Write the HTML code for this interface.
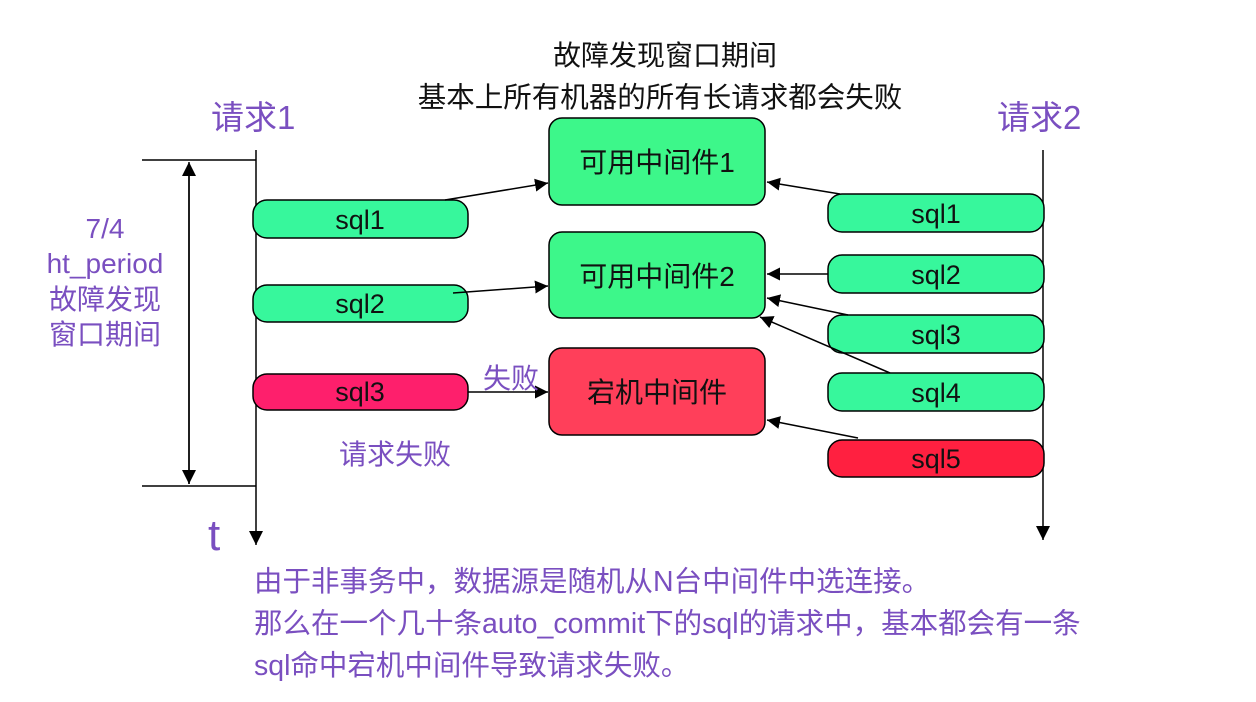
<!DOCTYPE html>
<html><head><meta charset="utf-8"><style>
html,body{margin:0;padding:0;background:#fff;}
svg{display:block;}
text{font-family:"Liberation Sans","Noto Sans CJK SC",sans-serif;}
</style></head><body>
<svg width="1256" height="702" viewBox="0 0 1256 702" xmlns="http://www.w3.org/2000/svg">
<defs>
<marker id="a" viewBox="0 0 10 10" refX="10" refY="5" markerWidth="13" markerHeight="13" markerUnits="userSpaceOnUse" orient="auto"><path d="M0,0 L10,5 L0,10 z" fill="#000"/></marker>
<marker id="b" viewBox="0 0 10 10" refX="10" refY="5" markerWidth="14" markerHeight="14" markerUnits="userSpaceOnUse" orient="auto"><path d="M0,0 L10,5 L0,10 z" fill="#000"/></marker>
</defs>
<text x="665" y="65" font-size="28" text-anchor="middle" fill="#111">故障发现窗口期间</text>
<text x="660" y="107" font-size="28.5" text-anchor="middle" fill="#111">基本上所有机器的所有长请求都会失败</text>
<text x="211" y="129" font-size="33" fill="#7a4fc0">请求1</text>
<text x="997" y="129" font-size="33" fill="#7a4fc0">请求2</text>
<line x1="256" y1="150" x2="256" y2="545" stroke="#000" stroke-width="1.5" marker-end="url(#b)"/>
<line x1="1043" y1="150" x2="1043" y2="540" stroke="#000" stroke-width="1.5" marker-end="url(#b)"/>
<line x1="142" y1="160" x2="256" y2="160" stroke="#000" stroke-width="1.5"/>
<line x1="142" y1="486" x2="256" y2="486" stroke="#000" stroke-width="1.5"/>
<line x1="189" y1="484" x2="189" y2="162" stroke="#000" stroke-width="1.5" marker-end="url(#b)"/>
<line x1="189" y1="170" x2="189" y2="484" stroke="#000" stroke-width="1.5" marker-end="url(#b)"/>
<g font-size="28" fill="#7a4fc0" text-anchor="middle">
<text x="105" y="238">7/4</text>
<text x="105" y="273">ht_period</text>
<text x="105" y="309">故障发现</text>
<text x="105" y="344">窗口期间</text>
</g>
<text x="208" y="550" font-size="44" fill="#7a4fc0">t</text>
<g stroke="#000" stroke-width="1.5">
<rect x="549" y="118" width="216" height="87" rx="13" fill="#3df78a"/>
<rect x="549" y="232" width="216" height="86" rx="13" fill="#3df78a"/>
<rect x="549" y="348" width="216" height="87" rx="13" fill="#ff3f5a"/>
</g>
<g font-size="28" fill="#111" text-anchor="middle">
<text x="657" y="172">可用中间件1</text>
<text x="657" y="286">可用中间件2</text>
<text x="657" y="402">宕机中间件</text>
</g>
<g stroke="#000" stroke-width="1.5">
<rect x="253" y="200" width="215" height="38" rx="14" fill="#37f79c"/>
<rect x="253" y="285" width="215" height="37" rx="14" fill="#37f79c"/>
<rect x="253" y="374" width="215" height="36" rx="14" fill="#fe1f6c"/>
<rect x="828" y="194" width="216" height="38" rx="14" fill="#37f79c"/>
<rect x="828" y="255" width="216" height="38" rx="14" fill="#37f79c"/>
<rect x="828" y="315" width="216" height="38" rx="14" fill="#37f79c"/>
<rect x="828" y="373" width="216" height="38" rx="14" fill="#37f79c"/>
<rect x="828" y="440" width="216" height="37" rx="14" fill="#ff2040"/>
</g>
<g font-size="27" fill="#111" text-anchor="middle">
<text x="360" y="229">sql1</text>
<text x="360" y="313">sql2</text>
<text x="360" y="401">sql3</text>
<text x="936" y="223">sql1</text>
<text x="936" y="284">sql2</text>
<text x="936" y="344">sql3</text>
<text x="936" y="402">sql4</text>
<text x="936" y="468">sql5</text>
</g>
<g stroke="#000" stroke-width="1.5" fill="none">
<line x1="445" y1="200" x2="548" y2="183" marker-end="url(#a)"/>
<line x1="453" y1="293" x2="548" y2="286" marker-end="url(#a)"/>
<line x1="468" y1="392" x2="548" y2="392" marker-end="url(#a)"/>
<line x1="840" y1="194" x2="767" y2="182" marker-end="url(#a)"/>
<line x1="828" y1="274" x2="767" y2="274" marker-end="url(#a)"/>
<line x1="848" y1="315" x2="767" y2="298" marker-end="url(#a)"/>
<line x1="890" y1="373" x2="760" y2="317" marker-end="url(#a)"/>
<line x1="858" y1="438" x2="767" y2="420" marker-end="url(#a)"/>
</g>
<text x="483" y="388" font-size="28" fill="#7a4fc0">失败</text>
<text x="339" y="464" font-size="28" fill="#7a4fc0">请求失败</text>
<g font-size="28.5" fill="#7a4fc0">
<text x="254" y="591">由于非事务中，数据源是随机从N台中间件中选连接。</text>
<text x="254" y="633">那么在一个几十条auto_commit下的sql的请求中，基本都会有一条</text>
<text x="254" y="675">sql命中宕机中间件导致请求失败。</text>
</g>
</svg>
</body></html>
